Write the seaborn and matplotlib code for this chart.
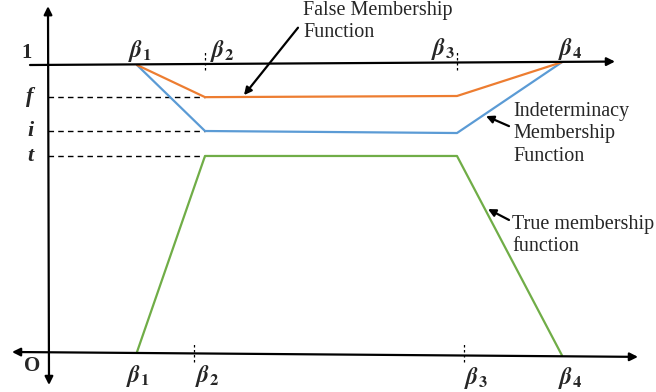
import matplotlib
matplotlib.use("Agg")
import matplotlib.pyplot as plt
import seaborn as sns
import pandas as pd

# ---- data (x in diagram units, y = membership grade) ----
beta_x = [0.89, 1.57, 4.09, 5.14]
truth = [0.0, 0.683, 0.683, -0.012]
indeterminacy = [1.0, 0.770, 0.763, 1.010]
falsity = [1.0, 0.888, 0.892, 1.010]
level_labels = ["f", "i", "t"]
level_values = [0.888, 0.770, 0.683]
beta_labels = [r"$\mathbfit{\beta}_{\mathbf{1}}$", r"$\mathbfit{\beta}_{\mathbf{2}}$",
               r"$\mathbfit{\beta}_{\mathbf{3}}$", r"$\mathbfit{\beta}_{\mathbf{4}}$"]
bottom_tick_x = [1.46, 4.16]

sns.set_theme(style="white")
plt.rcParams["font.family"] = ["Liberation Serif", "DejaVu Serif"]
plt.rcParams["mathtext.fontset"] = "stix"

colors = {"True": "#70AD47", "Indeterminacy": "#5B9BD5", "False": "#ED7D31"}
df = pd.concat([
    pd.DataFrame({"x": beta_x, "y": truth, "series": "True"}),
    pd.DataFrame({"x": beta_x, "y": indeterminacy, "series": "Indeterminacy"}),
    pd.DataFrame({"x": beta_x, "y": falsity, "series": "False"}),
])

fig = plt.figure(figsize=(6.56, 3.92), dpi=100)
ax = fig.add_axes([0, 0, 1, 1])
ax.set_xlim(-0.48, 6.08)
ax.set_ylim(-0.1394, 1.2265)
ax.axis("off")

# axes lines
arrow_kw = dict(arrowstyle="<|-|>", color="black", lw=1.6, mutation_scale=12, shrinkA=0, shrinkB=0)
ax.annotate("", xy=(0, 1.205), xytext=(0.01, -0.115), arrowprops=arrow_kw)
ax.annotate("", xy=(5.90, -0.017), xytext=(-0.36, 0.0), arrowprops=arrow_kw)
ax.annotate("", xy=(5.67, 1.012), xytext=(-0.18, 1.0),
            arrowprops=dict(arrowstyle="-|>", color="black", lw=1.6, mutation_scale=12, shrinkA=0, shrinkB=0))

# dashed guides
for v in level_values:
    ax.plot([0, beta_x[1]], [v, v], color="black", lw=1.0, ls=(0, (4, 3)))
for bx in beta_x[1:3]:
    ax.plot([bx, bx], [0.983, 1.045], color="black", lw=0.9, ls=(0, (2, 2)))
for bx in bottom_tick_x:
    ax.plot([bx, bx], [-0.035, 0.028], color="black", lw=0.9, ls=(0, (2, 2)))

# membership functions
sns.lineplot(data=df, x="x", y="y", hue="series", palette=colors, sort=False,
             estimator=None, legend=False, lw=1.6, ax=ax)

# labels
ax.text(-0.21, 1.042, "1", fontsize=15, fontweight="bold", ha="center", va="center")
ax.text(-0.16, -0.049, "O", fontsize=15, fontweight="bold", ha="center", va="center")
for lab, v in zip(level_labels, level_values):
    ax.text(-0.18, v, lab, fontsize=16, fontweight="bold", style="italic", ha="center", va="center")

top_pos = [(0.92, 1.050), (1.74, 1.050), (3.95, 1.055), (5.22, 1.057)]
bot_pos = [(0.90, -0.084), (1.59, -0.084), (4.28, -0.09), (5.22, -0.09)]
for lab, (x, y) in zip(beta_labels, top_pos):
    ax.text(x, y, lab, fontsize=17, ha="center", va="center")
for lab, (x, y) in zip(beta_labels, bot_pos):
    ax.text(x, y, lab, fontsize=17, ha="center", va="center")

# annotations
ann_kw = dict(arrowstyle="-|>", color="black", lw=1.6, mutation_scale=11, shrinkA=0, shrinkB=0)
ax.text(2.55, 1.174, "False Membership", fontsize=14.5, ha="left", va="baseline")
ax.text(2.55, 1.098, "Function", fontsize=14.5, ha="left", va="baseline")
ax.annotate("", xy=(1.96, 0.895), xytext=(2.50, 1.130), arrowprops=ann_kw)
ax.text(4.65, 0.760, "Indeterminacy\nMembership\nFunction", fontsize=14.5, ha="left", va="center", linespacing=1.25)
ax.annotate("", xy=(4.38, 0.822), xytext=(4.61, 0.787), arrowprops=ann_kw)
ax.text(4.64, 0.406, "True membership\nfunction", fontsize=14.5, ha="left", va="center", linespacing=1.25)
ax.annotate("", xy=(4.40, 0.498), xytext=(4.61, 0.46), arrowprops=ann_kw)

fig.savefig("out.png", dpi=100)
